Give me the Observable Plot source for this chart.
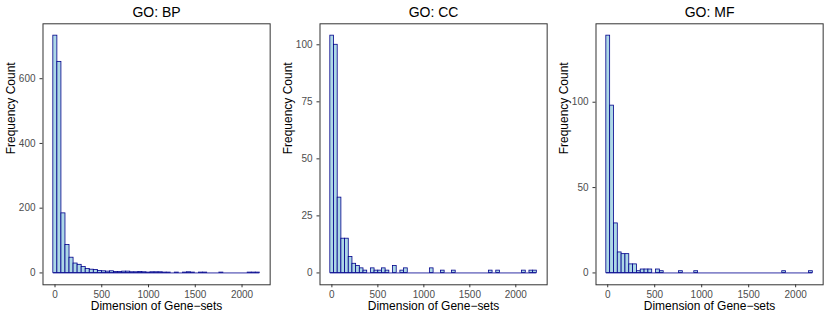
<!DOCTYPE html>
<html><head><meta charset="utf-8">
<script src="https://cdn.jsdelivr.net/npm/d3@7"></script>
<script src="https://cdn.jsdelivr.net/npm/@observablehq/plot@0.6"></script>
<style>
body{margin:0;background:#fff}
#chart{position:relative;width:830px;height:319px;overflow:hidden}
#chart svg{display:block;position:absolute;top:0}
</style>
</head><body><div id="chart"></div>
<script>
const panelTitles = ["GO: BP", "GO: CC", "GO: MF"];
const bpCounts = [733,652,184,86,47,29,25,18,12,10, 9,6,5,4,5,3,3,4,4,2, 2,3,2,1,2,2,2,1,1,0, 1,0,1,2,1,0,1,1,0,0, 0,1,0,0,0,0,0,0,1,1, 1];
const ccCounts = [104,100,33,15,15,7,4,3,2,1, 0,2,1,1,2,1,0,3,0,1, 2,0,0,0,0,0,0,2,0,0, 1,0,0,1,0,0,0,0,0,0, 0,0,0,1,0,1,0,0,0,0, 0,0,1,0,1,1];
const mfCounts = [139,98,29,12,11,11,5,5,1,2, 2,2,0,2,1,0,0,0,0,1, 0,0,0,1,0,0,0,0,0,0, 0,0,0,0,0,0,0,0,0,0, 0,0,0,0,0,0,1,0,0,0, 0,0,0,1];
const binStarts = [-18, -17, -15];
const binWidths = [43.3, 40.1, 40.7];
const xTicks = [0, 500, 1000, 1500, 2000];
const yTicks = [[0, 200, 400, 600], [0, 25, 50, 75, 100], [0, 50, 100]];
const xLabel = "Dimension of Gene\u2212sets";
const yLabel = "Frequency Count";

const allCounts = [bpCounts, ccCounts, mfCounts];
const W = 830 / 3, H = 319;
const font = "'Liberation Sans', Arial, Helvetica, sans-serif";
const chart = document.getElementById("chart");
const fmt = d => String(d);

allCounts.forEach((counts, i) => {
  const start = binStarts[i], bw = binWidths[i];
  const bins = counts.map((c, j) => ({x1: start + j * bw, x2: start + (j + 1) * bw, count: c}));
  const lo = bins[0].x1, hi = bins[bins.length - 1].x2;
  const ex = (hi - lo) * 0.05;
  const ymax = d3.max(counts);
  const ey = ymax * 0.05;
  const base = [{y: 0, x1: lo, x2: hi}];
  const svg = Plot.plot({
    width: W, height: H,
    marginLeft: 42.5, marginRight: 7, marginTop: 23.3, marginBottom: 34.7,
    style: {fontFamily: font, background: "#fff"},
    x: {domain: [lo - ex, hi + ex]},
    y: {domain: [-ey, ymax + ey]},
    marks: [
      Plot.ruleY(base, {y: "y", x1: "x1", x2: "x2", stroke: "#1a1a9c", strokeWidth: 0.9}),
      Plot.rectY(bins.filter(d => d.count > 0), {x1: "x1", x2: "x2", y1: 0, y2: "count", fill: "#add8e6", stroke: "#00008b", strokeWidth: 0.8}),
      Plot.frame({stroke: "#333", strokeWidth: 1}),
      Plot.axisX({ticks: xTicks, tickFormat: fmt, tickSize: 3, tickPadding: 3, fontSize: 10, stroke: "#333", fill: "#4d4d4d", label: null}),
      Plot.axisY({ticks: yTicks[i], tickFormat: fmt, tickSize: 3, tickPadding: 4.5, fontSize: 10, stroke: "#333", fill: "#4d4d4d", label: null}),
      Plot.text([panelTitles[i]], {frameAnchor: "top", dy: -11.4, fontSize: 14, fill: "#000", lineAnchor: "middle"}),
      Plot.text([xLabel], {frameAnchor: "bottom", dy: 21.8, fontSize: 12, fill: "#000", lineAnchor: "middle"}),
      Plot.text([yLabel], {frameAnchor: "left", dx: -31.5, rotate: -90, fontSize: 12, fill: "#000", lineAnchor: "middle"})
    ]
  });
  svg.style.left = (i * W) + "px";
  chart.appendChild(svg);
});
</script>
</body></html>
